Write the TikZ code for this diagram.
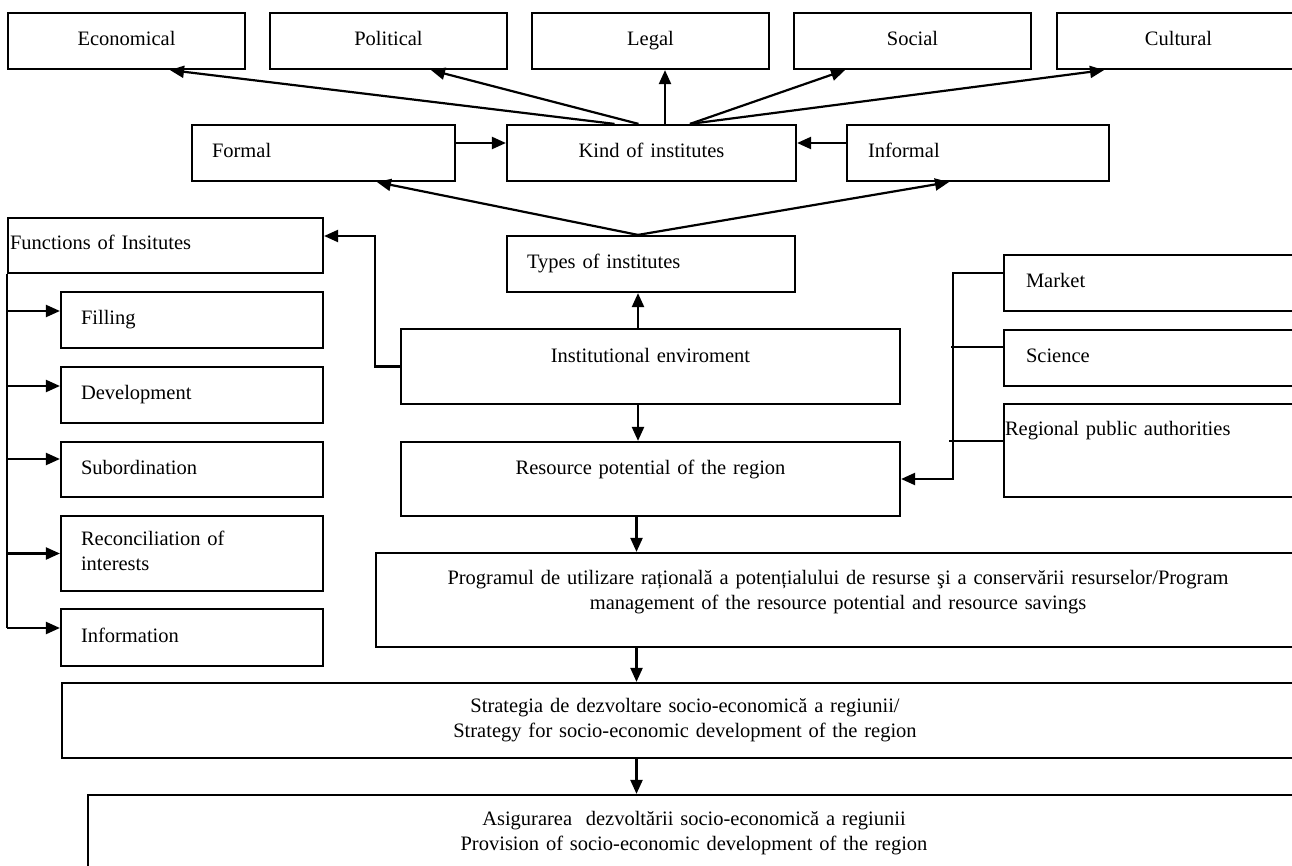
\documentclass[tikz,border=0pt]{standalone}
\usepackage{fontspec}
\setmainfont{Liberation Serif}
\usepackage{tikz}
\usetikzlibrary{arrows.meta,positioning,calc}

\tikzset{
  blk/.style={draw, line width=2.2pt, inner ysep=0pt, inner xsep=20pt,
              text height=14pt, text depth=5pt,
              font=\fontsize{20.5}{25}\selectfont},
  arr/.style={line width=2.2pt, -{Triangle[length=14pt,width=12pt]}},
  ln/.style={line width=2.2pt}
}

\begin{document}
\begin{tikzpicture}[x=1pt,y=-1pt]
  \fill[white] (0,0) rectangle (1292,866);
  \useasboundingbox (0,0) rectangle (1292,866);

  % kinds of institutes
  \node[blk, text width=197pt, align=center, minimum height=56pt] (econ) at (126.5,41) {Economical};
  \node[blk, text width=197pt, align=center, minimum height=56pt] (poli) at (388.5,41) {Political};
  \node[blk, text width=197pt, align=center, minimum height=56pt] (legal) at (650.5,41) {Legal};
  \node[blk, text width=197pt, align=center, minimum height=56pt] (soc) at (912.5,41) {Social};
  \node[blk, text width=203pt, align=center, minimum height=56pt] (cult) at (1178.5,41) {Cultural};

  \node[blk, text width=223pt, align=left, minimum height=56pt] (formal) at (323.5,153) {Formal};
  \node[blk, text width=249pt, align=center, minimum height=56pt] (kind) at (651.5,153) {Kind of institutes};
  \node[blk, inner xsep=21pt, text width=220pt, align=left, minimum height=56pt] (informal) at (978,153) {Informal};

  \node[blk, text width=248pt, align=left, minimum height=56pt] (types) at (651,264) {Types of institutes};

  % functions
  \node[blk, inner xsep=2pt, text width=311pt, align=left, minimum height=55pt] (func) at (165.5,245.5) {Functions of Insitutes};
  \node[blk, text width=222pt, align=left, minimum height=56pt] (fill) at (192,320) {Filling};
  \node[blk, text width=222pt, align=left, minimum height=56pt] (dev) at (192,395) {Development};
  \node[blk, text width=222pt, align=left, minimum height=55pt] (sub) at (192,469.5) {Subordination};
  \node[blk, text width=222pt, align=left, minimum height=75pt, text depth=30pt] (rec) at (192,553.5) {Reconciliation of\\interests};
  \node[blk, text width=222pt, align=left, minimum height=57pt] (info) at (192,637.5) {Information};

  % centre column
  \node[blk, text width=459pt, align=center, minimum height=75pt, text depth=23pt] (inst) at (650.5,366.5) {Institutional enviroment};
  \node[blk, text width=459pt, align=center, minimum height=74pt, text depth=24pt] (res) at (650.5,479) {Resource potential of the region};
  \node[blk, text width=884pt, align=center, minimum height=94pt, text depth=46pt] (prog) at (838,600)
    {Programul de utilizare rațională a potențialului de resurse şi a conservării resurselor/Program\\management of the resource potential and resource savings};
  \node[blk, text width=1206pt, align=center, minimum height=75pt, text depth=30pt] (strat) at (685,720.5)
    {Strategia de dezvoltare socio-economică a regiunii/\\Strategy for socio-economic development of the region};
  \node[blk, text width=1172pt, align=center, minimum height=77pt, text depth=30pt] (asig) at (694,833.5)
    {Asigurarea \ dezvoltării socio-economică a regiunii\\Provision of socio-economic development of the region};

  % actors
  \node[blk, inner xsep=22pt, text width=252pt, align=left, minimum height=56pt] (market) at (1152,283) {Market};
  \node[blk, inner xsep=22pt, text width=252pt, align=left, minimum height=56pt] (sci) at (1152,358) {Science};
  \node[blk, inner xsep=1pt, text width=294pt, align=left, minimum height=93pt, text depth=45pt] (reg) at (1152,450.5) {Regional public authorities};

  % arrows
  \draw[arr] ([xshift=-37pt]kind.north) -- ([xshift=43.5pt]econ.south);
  \draw[arr] ([xshift=-13pt]kind.north) -- ([xshift=42.5pt]poli.south);
  \draw[arr] ([xshift=13.5pt]kind.north) -- ([xshift=14.5pt]legal.south);
  \draw[arr] ([xshift=38.5pt]kind.north) -- ([xshift=-67.5pt]soc.south);
  \draw[arr] ([xshift=38.5pt]kind.north) -- ([xshift=-74.5pt]cult.south);

  \draw[arr] ([yshift=10pt]formal.east) -- ([yshift=10pt]kind.west);
  \draw[arr] ([yshift=10pt]informal.west) -- ([yshift=10pt]kind.east);
  \draw[arr] ([xshift=-13pt]types.north) -- ([xshift=53.5pt]formal.south);
  \draw[arr] ([xshift=-13pt]types.north) -- ([xshift=-29pt]informal.south);

  \draw[arr] ([xshift=-12.5pt]inst.north) -- ([xshift=-13pt]types.south);
  \draw[arr] ([xshift=-12.5pt]inst.south) -- ([xshift=-12.5pt]res.north);
  \draw[arr] (inst.west) -- ++(-25,0) |- ([yshift=9.5pt]func.east);

  \coordinate (spine) at ($(res.south)+(-14,0)$);
  \draw[arr] (spine) -- (spine |- prog.north);
  \draw[arr] (spine |- prog.south) -- (spine |- strat.north);
  \draw[arr] (spine |- strat.south) -- (spine |- asig.north);

  \draw[ln] (func.south west) -- ($(func.south west |- info.west)+(0,-9.5)$);
  \foreach \f/\dy in {fill/-9,dev/-9,sub/-10.5,rec/0,info/-9.5}
    \draw[arr] ($(func.south west |- \f.west)+(0,\dy)$) -- ($(\f.west)+(0,\dy)$);

  \draw[arr] ($(market.west)+(0,-10)$) -| ($(res.east)+(52,0)$) -- (res.east);
  \draw[ln] ($(sci.west)+(0,-11)$) -- ++(-52,0);
  \draw[ln] ($(reg.west)+(0,-9.5)$) -- ++(-54,0);
\end{tikzpicture}
\end{document}
